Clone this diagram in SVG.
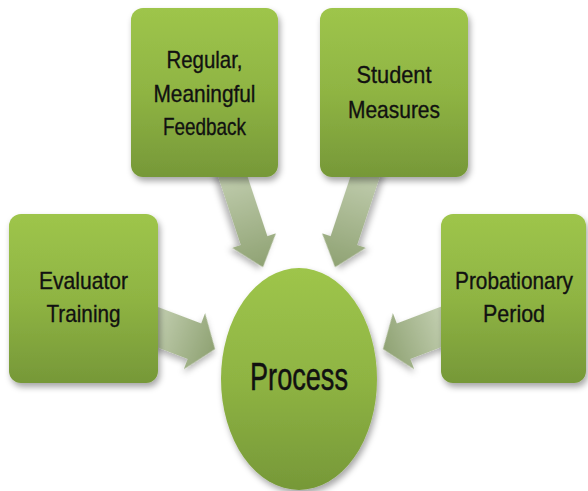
<svg xmlns="http://www.w3.org/2000/svg" width="588" height="491" viewBox="0 0 588 491">
  <defs>
    <linearGradient id="gGreen" x1="0" y1="0" x2="0" y2="1">
      <stop offset="0" stop-color="#9ec54b"/>
      <stop offset="0.5" stop-color="#8fb443"/>
      <stop offset="1" stop-color="#769838"/>
    </linearGradient>
    <linearGradient id="gArrow" x1="0" y1="0" x2="1" y2="0">
      <stop offset="0" stop-color="#c3cfb1"/>
      <stop offset="1" stop-color="#8fa273"/>
    </linearGradient>
    <filter id="shadow" x="-20%" y="-20%" width="140%" height="140%">
      <feDropShadow dx="2" dy="4" stdDeviation="3" flood-color="#000" flood-opacity="0.35"/>
    </filter>
    <filter id="ashadow" x="-20%" y="-30%" width="140%" height="160%">
      <feDropShadow dx="1" dy="4" stdDeviation="3" flood-color="#000" flood-opacity="0.3"/>
    </filter>
  </defs>
  <style>
    .box { fill: url(#gGreen); filter: url(#shadow); }
    .arrow { fill: url(#gArrow); filter: url(#ashadow); }
    .lbl { font-family: "Liberation Sans", Arial, sans-serif; font-size: 24px; fill: #111; stroke: #111; stroke-width: 0.35; text-anchor: middle; }
    .big { font-family: "Liberation Sans", Arial, sans-serif; font-size: 38px; fill: #111; stroke: #111; stroke-width: 0.5; text-anchor: middle; }
  </style>
  <rect width="588" height="491" fill="#ffffff"/>

  <g id="connectors">
    <g transform="translate(150.5,324.5) rotate(20.8)">
      <path class="arrow" d="M0,-19 L47,-19 L47,-30 L69,0 L47,30 L47,19 L0,19 Z"/>
    </g>
    <g transform="translate(598,0) scale(-1,1)">
      <g transform="translate(150.5,324.5) rotate(20.8)">
        <path class="arrow" d="M0,-19 L47,-19 L47,-30 L69,0 L47,30 L47,19 L0,19 Z"/>
      </g>
    </g>
    <g transform="translate(229.8,167.5) rotate(71.6)">
      <path class="arrow" d="M0,-14 L77,-14 L77,-23 L105,0 L77,23 L77,14 L0,14 Z"/>
    </g>
    <g transform="translate(598,0) scale(-1,1)">
      <g transform="translate(229.8,167.5) rotate(71.6)">
        <path class="arrow" d="M0,-14 L77,-14 L77,-23 L105,0 L77,23 L77,14 L0,14 Z"/>
      </g>
    </g>
  </g>

  <g id="node-evaluator">
    <rect class="box" x="9" y="214" width="149" height="169" rx="12"/>
    <text class="lbl" x="83.5" y="289" textLength="89" lengthAdjust="spacingAndGlyphs">Evaluator</text>
    <text class="lbl" x="83.5" y="322" textLength="74" lengthAdjust="spacingAndGlyphs">Training</text>
  </g>

  <g id="node-feedback">
    <rect class="box" x="131" y="8" width="147" height="169" rx="12"/>
    <text class="lbl" x="204.5" y="68" textLength="76" lengthAdjust="spacingAndGlyphs">Regular,</text>
    <text class="lbl" x="204.5" y="102" textLength="102" lengthAdjust="spacingAndGlyphs">Meaningful</text>
    <text class="lbl" x="204.5" y="135" textLength="83" lengthAdjust="spacingAndGlyphs">Feedback</text>
  </g>

  <g id="node-student">
    <rect class="box" x="320" y="8" width="148" height="169" rx="12"/>
    <text class="lbl" x="394" y="83" textLength="75" lengthAdjust="spacingAndGlyphs">Student</text>
    <text class="lbl" x="394" y="118" textLength="92" lengthAdjust="spacingAndGlyphs">Measures</text>
  </g>

  <g id="node-probationary">
    <rect class="box" x="441" y="214" width="145" height="169" rx="12"/>
    <text class="lbl" x="514" y="289" textLength="118" lengthAdjust="spacingAndGlyphs">Probationary</text>
    <text class="lbl" x="514" y="322" textLength="62" lengthAdjust="spacingAndGlyphs">Period</text>
  </g>

  <g id="node-process">
    <ellipse class="box" cx="299" cy="379" rx="78" ry="111"/>
    <text class="big" x="299" y="390" textLength="98" lengthAdjust="spacingAndGlyphs">Process</text>
  </g>
</svg>
